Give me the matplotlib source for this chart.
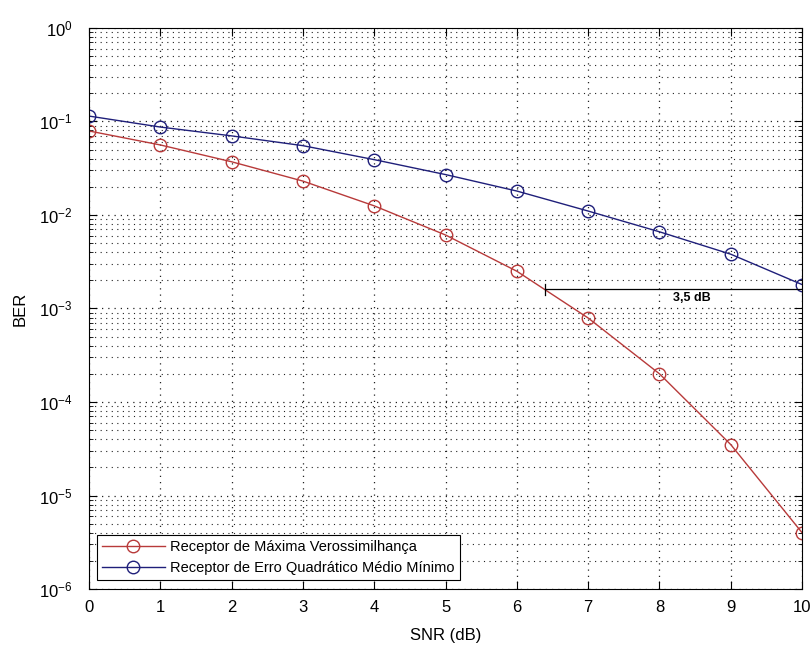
import numpy as np
import matplotlib
matplotlib.use("Agg")
import matplotlib.pyplot as plt
from matplotlib.ticker import LogLocator, NullFormatter

plt.rcParams['font.family'] = ['Liberation Sans', 'DejaVu Sans']

snr = [0, 1, 2, 3, 4, 5, 6, 7, 8, 9, 10]
ber_ml = [0.079, 0.056, 0.037, 0.023, 0.0125, 0.0061, 0.0025, 0.00079, 0.0002, 3.5e-5, 4e-6]
ber_mmse = [0.114, 0.087, 0.070, 0.055, 0.039, 0.027, 0.018, 0.011, 0.0066, 0.0038, 0.0018]
labels = ["Receptor de Máxima Verossimilhança",
          "Receptor de Erro Quadrático Médio Mínimo"]

# annotation: gap between curves at the MMSE BER for 10 dB
gap_y = 0.0016
gap_x0, gap_x1 = 6.4, 10
gap_text = "3,5 dB"

fig = plt.figure(figsize=(8.12, 6.48), dpi=100)
ax = fig.add_axes([0.1096, 0.091, 0.8782, 0.866])

ax.semilogy(snr, ber_ml, color="#b83a3a", marker="o", markersize=9,
            markerfacecolor="none", markeredgewidth=1.0, linewidth=1.0, label=labels[0])
ax.semilogy(snr, ber_mmse, color="#1f1f7a", marker="o", markersize=9,
            markerfacecolor="none", markeredgewidth=1.0, linewidth=1.0, label=labels[1])

ax.plot([gap_x0, gap_x1], [gap_y, gap_y], color="black", linewidth=0.9)
ax.plot([gap_x0, gap_x0], [gap_y * 0.88, gap_y * 1.14], color="black", linewidth=0.9)
ax.text(8.45, gap_y * 0.93, gap_text, ha="center", va="top", fontsize=9, fontweight="bold")

ax.set_xlim(0, 10)
ax.set_ylim(1e-6, 1)
ax.set_xticks(snr)
ax.yaxis.set_major_locator(LogLocator(base=10, numticks=10))
ax.yaxis.set_minor_locator(LogLocator(base=10, subs=np.arange(2, 10), numticks=20))
ax.yaxis.set_minor_formatter(NullFormatter())

ax.grid(True, which="major", linestyle=(0, (1, 4)), color="#222222", linewidth=0.9)
ax.grid(True, which="minor", axis="y", linestyle=(0, (1, 4)), color="#222222", linewidth=0.8)
ax.tick_params(which="both", direction="in", top=True, right=True, labelsize=12)
ax.tick_params(which="major", length=6)
ax.tick_params(which="minor", length=3)
ax.tick_params(axis="x", pad=8)
ax.tick_params(axis="y", pad=12)

ax.set_xlabel("SNR (dB)", fontsize=12, labelpad=9)
ax.set_ylabel("BER", fontsize=12, labelpad=8)

leg = ax.legend(loc="lower left", bbox_to_anchor=(0.011, 0.016), borderaxespad=0,
                fontsize=10.5, fancybox=False, framealpha=1, edgecolor="black",
                handlelength=4.3, handletextpad=0.4, labelspacing=0.5, borderpad=0.35)
leg.get_frame().set_linewidth(0.8)

fig.savefig("out.png", dpi=100, facecolor="white")
